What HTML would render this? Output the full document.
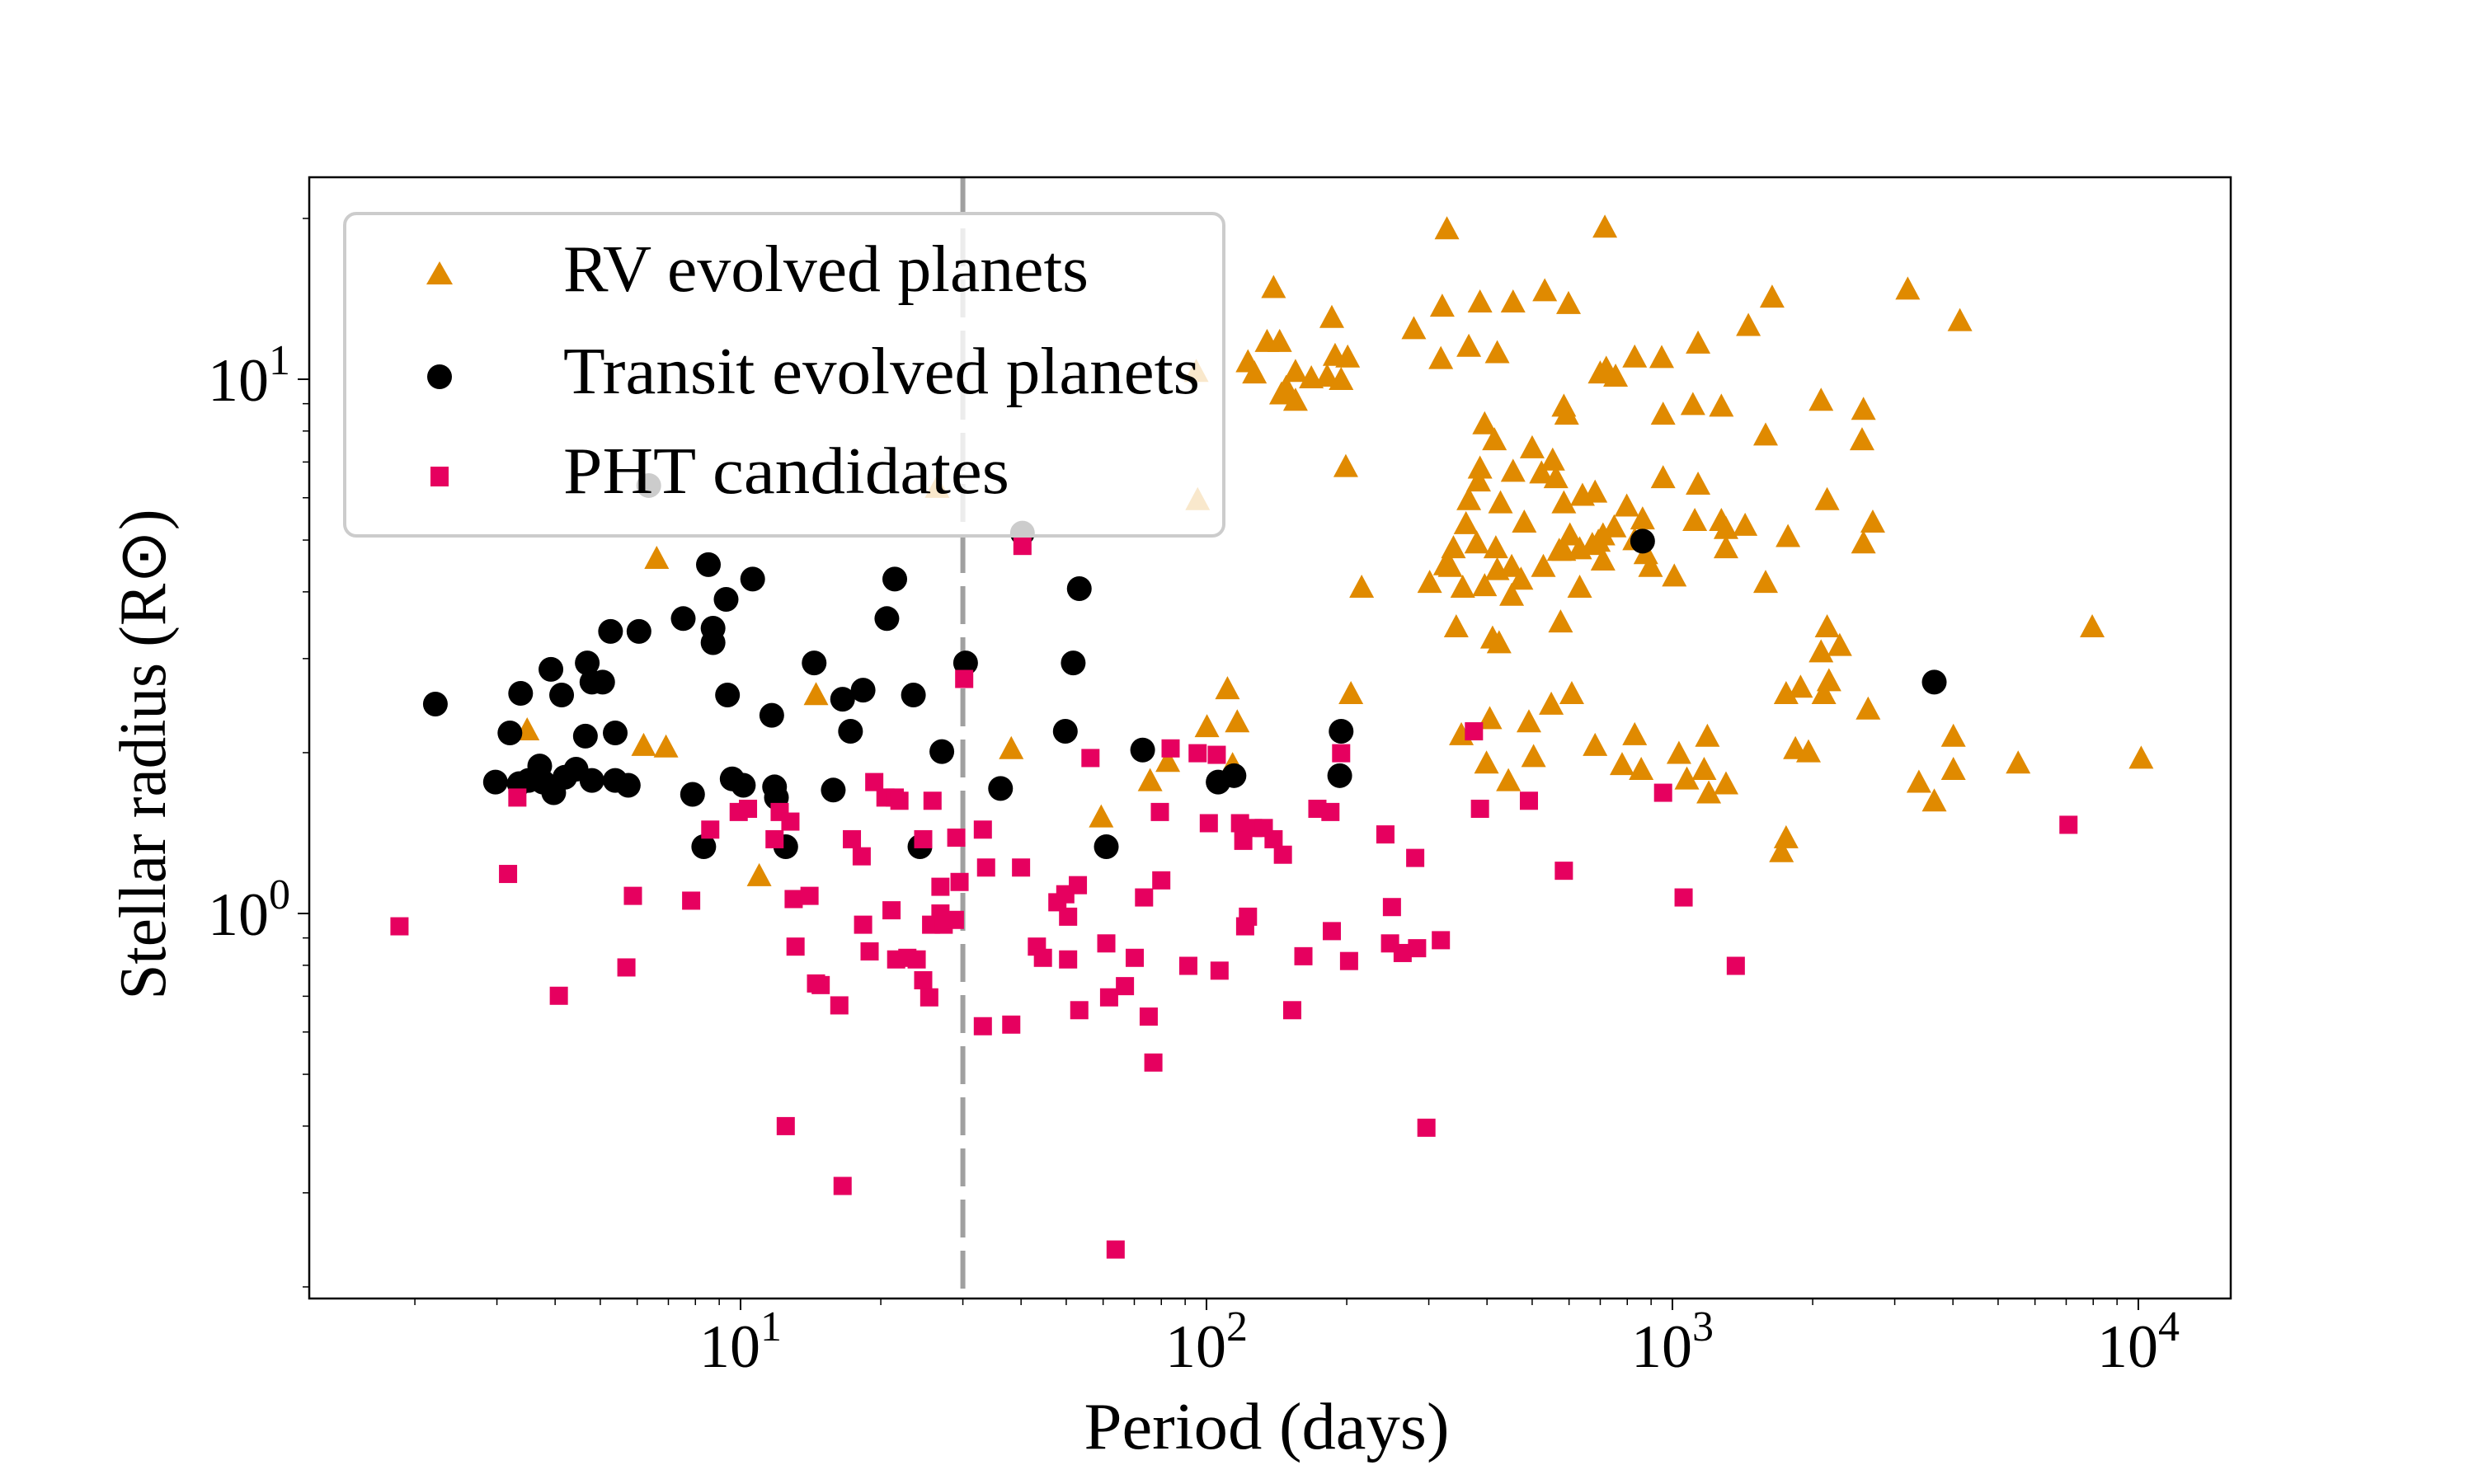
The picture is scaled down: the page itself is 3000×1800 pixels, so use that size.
<!DOCTYPE html>
<html><head><meta charset="utf-8"><style>
html,body{margin:0;padding:0;background:#fff;}
svg{display:block;font-family:"Liberation Serif",serif;}
</style></head><body>
<svg id="chart" width="3000" height="1800" viewBox="0 0 3000 1800" xmlns="http://www.w3.org/2000/svg">
<rect width="3000" height="1800" fill="#fff"/>
<g id="plot"></g>
</svg>
<script>
// data in log10 units: log10(Period/days), log10(Radius/Rsun)
const rvLogP=[2.516,2.855,2.144,2.269,3.505,3.214,3.617,3.163,2.445,2.506,2.587,2.658,2.726,2.777,2.858,3.055,2.977,2.845,2.878,2.919,2.980,3.044,3.105,3.319,3.410,3.407,3.200,2.503,2.563,2.624,2.089,2.130,2.157,2.191,2.171,2.103,2.276,2.303,2.289,2.225,2.161,2.191,2.259,1.978,2.299,2.333,2.310,2.773,2.767,2.597,2.618,2.743,2.587,2.699,2.584,2.658,2.719,2.750,2.807,2.767,2.834,2.902,2.980,3.055,3.105,3.156,3.248,3.332,3.430,3.410,3.048,2.936,2.875,2.851,2.828,2.801,2.767,2.682,2.631,2.563,2.557,2.580,2.513,2.530,2.621,2.655,2.675,2.723,2.757,2.780,2.851,2.919,2.953,3.004,2.943,2.841,2.801,2.760,2.624,2.597,2.655,2.550,2.523,2.479,2.536,2.614,2.628,3.115,3.115,3.200,3.332,3.359,3.319,3.275,3.244,3.325,3.336,2.784,2.740,2.692,2.547,2.608,2.702,2.834,2.919,2.892,3.014,3.031,3.075,3.068,3.115,3.078,2.933,3.264,3.292,3.420,3.603,3.603,3.529,3.562,3.742,4.006,3.901,3.244,3.234,2.648,2.601,2.045,2.066,2.001,2.056,1.917,1.879,1.774,1.581,1.162,0.840,0.792,0.542,1.040,0.820,1.981,1.422];
const rvLogR=[1.279,1.282,1.169,1.113,1.166,1.151,1.107,1.098,1.092,1.134,1.142,1.142,1.163,1.139,1.018,1.065,1.038,1.009,1.003,1.039,0.932,0.950,0.947,0.958,0.941,0.884,0.893,1.036,1.059,1.047,1.030,1.068,1.068,1.012,0.982,1.009,1.042,1.039,0.997,1.000,0.970,0.958,1.003,1.012,0.834,0.608,0.409,0.932,0.947,0.914,0.884,0.846,0.831,0.869,0.807,0.825,0.822,0.813,0.780,0.766,0.786,0.760,0.813,0.801,0.733,0.724,0.703,0.772,0.730,0.691,0.733,0.736,0.721,0.706,0.688,0.680,0.677,0.730,0.766,0.772,0.727,0.691,0.650,0.682,0.682,0.647,0.623,0.647,0.677,0.706,0.659,0.697,0.647,0.629,0.671,0.694,0.608,0.543,0.641,0.611,0.593,0.608,0.647,0.617,0.534,0.513,0.504,0.718,0.682,0.617,0.534,0.499,0.487,0.421,0.409,0.409,0.433,0.409,0.389,0.356,0.332,0.362,0.291,0.312,0.332,0.276,0.297,0.249,0.329,0.267,0.240,0.223,0.267,0.306,0.300,0.380,0.329,0.267,0.243,0.208,0.279,0.288,0.534,0.139,0.113,0.246,0.279,0.418,0.356,0.347,0.276,0.282,0.246,0.178,0.306,0.407,0.309,0.312,0.341,0.068,0.662,0.772,0.795];
const trLogP=[0.345,0.474,0.505,0.525,0.528,0.545,0.569,0.576,0.599,0.593,0.616,0.623,0.647,0.671,0.681,0.667,0.681,0.704,0.721,0.731,0.731,0.759,0.782,0.803,0.877,0.897,0.921,0.931,0.941,0.941,0.969,0.972,0.982,1.006,1.026,1.067,1.073,1.077,1.097,1.158,1.199,1.219,1.236,1.263,1.314,1.331,1.371,1.385,1.432,1.483,1.558,1.605,1.697,1.714,1.727,1.785,1.863,2.025,2.059,2.289,2.286,2.936,3.562];
const trLogR=[0.392,0.246,0.338,0.243,0.412,0.249,0.276,0.246,0.226,0.457,0.409,0.255,0.270,0.469,0.433,0.332,0.249,0.433,0.528,0.338,0.249,0.240,0.528,0.801,0.552,0.223,0.125,0.653,0.534,0.507,0.588,0.409,0.252,0.240,0.626,0.371,0.237,0.217,0.125,0.469,0.231,0.401,0.341,0.418,0.552,0.626,0.409,0.125,0.303,0.469,0.234,0.712,0.341,0.469,0.608,0.125,0.306,0.246,0.258,0.341,0.258,0.697,0.433];
const phtLogP=[0.268,0.501,0.521,0.610,0.755,0.769,0.894,0.935,0.996,1.016,1.073,1.084,1.107,1.097,1.114,1.118,1.148,1.162,1.172,1.212,1.219,1.239,1.260,1.263,1.277,1.287,1.311,1.331,1.341,1.324,1.334,1.358,1.378,1.392,1.392,1.412,1.405,1.409,1.429,1.429,1.436,1.460,1.463,1.470,1.480,1.520,1.520,1.527,1.581,1.602,1.605,1.636,1.649,1.680,1.703,1.703,1.697,1.724,1.727,1.751,1.785,1.791,1.825,1.846,1.866,1.876,1.886,1.900,1.903,1.923,1.961,2.005,2.022,2.028,2.072,2.079,2.083,2.089,2.100,2.123,2.144,2.164,2.184,2.208,2.238,2.266,2.269,2.289,2.306,2.384,2.398,2.394,2.421,2.452,2.448,2.472,2.503,2.574,2.587,2.692,2.767,2.980,3.024,3.136,3.850,1.805,1.981];
const phtLogR=[-0.024,0.074,0.217,-0.154,-0.101,0.033,0.024,0.157,0.190,0.196,0.139,0.190,0.172,-0.398,0.027,-0.062,0.033,-0.131,-0.134,-0.172,-0.510,0.139,0.107,-0.021,-0.071,0.246,0.217,0.217,0.211,0.006,-0.086,-0.083,-0.086,-0.125,0.139,0.211,-0.157,-0.021,0.050,0.000,-0.021,-0.012,0.142,0.059,0.439,0.157,-0.211,0.086,-0.208,0.086,0.688,-0.062,-0.083,0.021,-0.006,-0.086,0.036,0.053,-0.181,0.291,-0.056,-0.157,-0.136,-0.083,0.030,-0.193,-0.279,0.190,0.062,0.309,-0.098,0.169,0.297,-0.107,0.169,0.136,-0.024,-0.006,0.160,0.160,0.139,0.110,-0.181,-0.080,0.196,0.190,-0.033,0.300,-0.089,0.148,0.012,-0.056,-0.074,-0.065,0.104,-0.401,-0.050,0.341,0.196,0.211,0.080,0.226,0.030,-0.098,0.166,-0.629,0.300];
const xTickExp=[1,2,3,4];
const yTickExp=[0,1];
const cutoffPeriod=30;

const NS="http://www.w3.org/2000/svg";
const g=document.getElementById('plot');
const L=375,R=2705,T=215,B=1575;
function X(lp){return 898+(lp-1)*565;}
function Y(lr){return 460+(1-lr)*648;}
function mk(tag,attrs,parent){const e=document.createElementNS(NS,tag);for(const k in attrs)e.setAttribute(k,attrs[k]);(parent||g).appendChild(e);return e;}

const clip=mk('clipPath',{id:'cp'});mk('rect',{x:L,y:T,width:R-L,height:B-T},clip);

let cl=mk('line',{x1:X(Math.log10(cutoffPeriod)),x2:X(Math.log10(cutoffPeriod)),y1:T,y2:B,stroke:'#a0a0a0','stroke-width':6,'stroke-dasharray':'46 16'});



const pts=mk('g',{'clip-path':'url(#cp)'});


rvLogP.forEach((p,i)=>{const x=X(p),y=Y(rvLogR[i]);
 const e=mk('polygon',{points:`${x},${y-17} ${x+15},${y+11} ${x-15},${y+11}`,fill:'#e08a00'},pts);
 
 });
trLogP.forEach((p,i)=>{
 const e=mk('circle',{cx:X(p),cy:Y(trLogR[i]),r:15,fill:'#000'},pts);
 
 });
phtLogP.forEach((p,i)=>{
 const e=mk('rect',{x:X(p)-11,y:Y(phtLogR[i])-11,width:22,height:22,fill:'#e6005f'},pts);
 
 });

let fr=mk('rect',{x:L,y:T,width:R-L,height:B-T,fill:'none',stroke:'#000','stroke-width':2.5});



for(let e=0;e<=4;e++){for(let m=1;m<10;m++){const lv=e+Math.log10(m);const x=X(lv);if(x<L||x>R)continue;
 const t=mk('line',{x1:x,x2:x,y1:B,y2:B+(m===1?14:8),stroke:'#000','stroke-width':m===1?2:1.5});
 
 }}
xTickExp.forEach(e=>{const t=mk('text',{x:X(e),y:1658,'text-anchor':'middle','font-size':74});
 t.innerHTML=`10<tspan dy="-32" font-size="52">${e}</tspan>`;
 
 });
for(let e=-1;e<=1;e++){for(let m=1;m<10;m++){const lv=e+Math.log10(m);const y=Y(lv);if(y<T||y>B)continue;
 const t=mk('line',{x1:L,x2:L-(m===1?14:8),y1:y,y2:y,stroke:'#000','stroke-width':m===1?2:1.5});
 
 }}
yTickExp.forEach(e=>{const t=mk('text',{x:352,y:Y(e)+26,'text-anchor':'end','font-size':74});
 t.innerHTML=`10<tspan dy="-32" font-size="52">${e}</tspan>`;
 
 });

let xt=mk('text',{x:1536,y:1757,'text-anchor':'middle','font-size':80,textLength:443,lengthAdjust:'spacingAndGlyphs'});
xt.textContent='Period (days)';


let yt=mk('text',{x:0,y:0,'text-anchor':'middle','font-size':80,transform:'translate(200,915) rotate(-90)',textLength:595,lengthAdjust:'spacingAndGlyphs'});
yt.textContent='Stellar radius (R\u2299)';



const lg=mk('g',{});


mk('rect',{x:418,y:259,width:1066,height:391,rx:14,fill:'#fff','fill-opacity':0.8,stroke:'#cccccc','stroke-width':4},lg);
mk('polygon',{points:'533,317 549,345 517,345',fill:'#e08a00'},lg);
mk('circle',{cx:533,cy:457,r:15,fill:'#000'},lg);
mk('rect',{x:522,y:566,width:22,height:24,fill:'#e6005f'},lg);
[['RV evolved planets',353,637,'legend-rv'],['Transit evolved planets',477,772,'legend-transit'],['PHT candidates',598,541,'legend-pht']].forEach(a=>{
 const t=mk('text',{x:683,y:a[1],'font-size':80,textLength:a[2],lengthAdjust:'spacingAndGlyphs'},lg);
 t.textContent=a[0];
 
 });
</script>
</body></html>
